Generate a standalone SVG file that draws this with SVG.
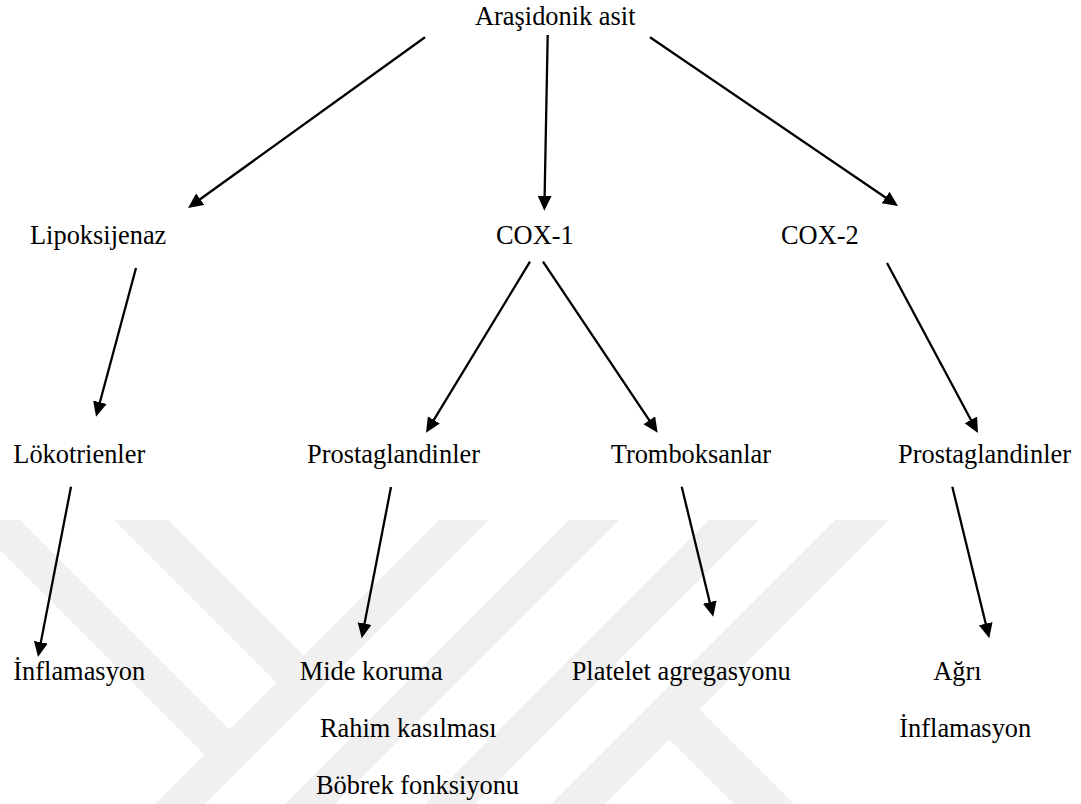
<svg xmlns="http://www.w3.org/2000/svg" width="1081" height="804" viewBox="0 0 1081 804">
  <style>
    text { font-family: 'Liberation Serif', 'Times New Roman', 'DejaVu Serif', serif; font-size: 26.4px; fill: #000; }
    .c { stroke: #000; stroke-width: 2.3; fill: none; marker-end: url(#ah); }
    .wm { fill: #f0f0f0; stroke: none; }
  </style>
  <defs>
    <marker id="ah" markerUnits="userSpaceOnUse" markerWidth="16" markerHeight="16" refX="7" refY="7" orient="auto">
      <path d="M0,0 L15,7 L0,14 z" fill="#000"/>
    </marker>
  </defs>
  <rect x="0" y="0" width="1081" height="804" fill="#fff"/>
  <g id="watermark">
    <polygon class="wm" points="-30,520 20,520 240,740 215,765"/>
    <polygon class="wm" points="114,520 168,520 310,662 283,689"/>
    <polygon class="wm" points="439,520 489,520 205,804 155,804"/>
    <polygon class="wm" points="569,520 619,520 335,804 285,804"/>
    <polygon class="wm" points="709,520 759,520 475,804 425,804"/>
    <polygon class="wm" points="835,520 889,520 605,804 551,804"/>
    <polygon class="wm" points="680,690 794,804 734,804 650,720"/>
  </g>
  <g id="connectors">
    <line class="c" x1="425" y1="37.3" x2="194.5" y2="203.3"/>
    <line class="c" x1="547.7" y1="35" x2="544.5" y2="202.7"/>
    <line class="c" x1="650" y1="37.3" x2="891.4" y2="201.5"/>
    <line class="c" x1="136" y1="268" x2="98.1" y2="409"/>
    <line class="c" x1="530" y1="261.7" x2="430.2" y2="425.9"/>
    <line class="c" x1="543" y1="261.7" x2="653.2" y2="426.1"/>
    <line class="c" x1="887" y1="263" x2="974.2" y2="426"/>
    <line class="c" x1="71" y1="486.7" x2="39.5" y2="649.1"/>
    <line class="c" x1="391" y1="487" x2="363.2" y2="630.4"/>
    <line class="c" x1="681.7" y1="486.7" x2="711.4" y2="608.9"/>
    <line class="c" x1="952.3" y1="486.7" x2="987.4" y2="630.5"/>
  </g>
  <g font-family="Liberation Serif, serif">
    <g id="n-arasidonik"><text x="475" y="25">Araşidonik asit</text></g>
    <g id="n-lipoksijenaz"><text x="30" y="244">Lipoksijenaz</text></g>
    <g id="n-cox1"><text x="496" y="244">COX-1</text></g>
    <g id="n-cox2"><text x="781" y="244">COX-2</text></g>
    <g id="n-lokotrienler"><text x="13.3" y="463">Lökotrienler</text></g>
    <g id="n-prostaglandinler1"><text x="307" y="463">Prostaglandinler</text></g>
    <g id="n-tromboksanlar"><text x="610.7" y="463">Tromboksanlar</text></g>
    <g id="n-prostaglandinler2"><text x="898" y="463">Prostaglandinler</text></g>
    <g id="n-inflamasyon1"><text x="13.3" y="680">İnflamasyon</text></g>
    <g id="n-mide"><text x="299.7" y="680">Mide koruma</text></g>
    <g id="n-platelet"><text x="571.7" y="680">Platelet agregasyonu</text></g>
    <g id="n-agri"><text x="933.3" y="680">Ağrı</text></g>
    <g id="n-rahim"><text x="320" y="737">Rahim kasılması</text></g>
    <g id="n-inflamasyon2"><text x="899.3" y="737">İnflamasyon</text></g>
    <g id="n-bobrek"><text x="316" y="794">Böbrek fonksiyonu</text></g>
  </g>
</svg>
